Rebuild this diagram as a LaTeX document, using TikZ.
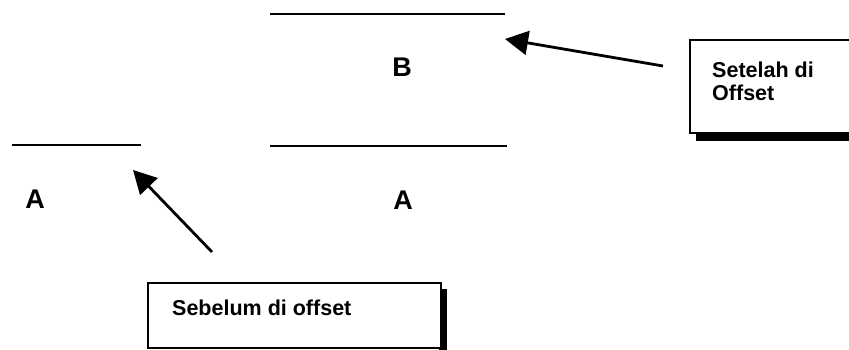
\documentclass[tikz,border=0pt]{standalone}
\usepackage{fontspec}
\setmainfont{Liberation Sans}
\usetikzlibrary{arrows.meta}
\begin{document}
\begin{tikzpicture}[x=1pt,y=-1pt,
  lvl/.style={line width=1.8pt},
  lbl/.style={font=\bfseries\fontsize{27}{30}\selectfont, inner sep=0pt},
  note/.style={font=\bfseries\fontsize{21.5}{23}\selectfont, align=left, inner sep=0pt},
  box/.style={draw, line width=1.5pt, fill=white},
  arr/.style={line width=2.8pt, -{Triangle[length=23pt,width=24pt]}}]
\useasboundingbox (0,0) rectangle (849,349);
% levels
\coordinate (l1a) at (12,145); \coordinate (l1b) at (141,145);
\draw[lvl] (l1a) -- (l1b);
\coordinate (l2a) at (270,14); \coordinate (l2b) at (505,14);
\draw[lvl] (l2a) -- (l2b);
\coordinate (l3a) at (270,146); \coordinate (l3b) at (507,146);
\draw[lvl] (l3a) -- (l3b);
\node[lbl] (A1) at (35,199) {A};
\node[lbl] (B) at (402,67) {B};
\node[lbl] (A2) at (403,200) {A};
% right box with shadow
\fill (696,48) rectangle (855,141);
\draw[box] (690,40) rectangle (852,133);
\node[note, anchor=north west] (R) at (712,62) {Setelah di\\Offset};
% bottom box with shadow
\fill (439,289) rectangle (447,352);
\draw[box] (148,283) rectangle (441,348);
\node[note, anchor=base west] (S) at (172,315) {Sebelum di offset};
% arrows
\coordinate (t1) at (212,252); \coordinate (h1) at (133,170);
\draw[arr] (t1) -- (h1);
\coordinate (t2) at (663,66); \coordinate (h2) at (505,39);
\draw[arr] (t2) -- (h2);
\end{tikzpicture}
\end{document}
